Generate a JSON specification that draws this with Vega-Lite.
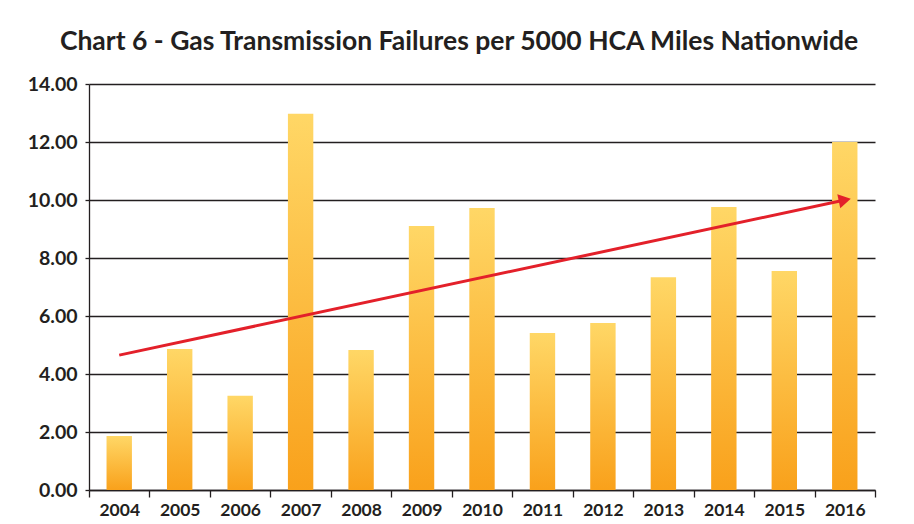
{
  "$schema": "https://vega.github.io/schema/vega-lite/v6.json",
  "autosize": "none",
  "width": 786,
  "height": 406,
  "padding": {"left": 89, "top": 84, "right": 39, "bottom": 34},
  "background": "white",
  "title": {
    "text": "Chart 6 - Gas Transmission Failures per 5000 HCA Miles Nationwide",
    "font": "Lato",
    "fontSize": 26.5,
    "fontWeight": "bold",
    "color": "#231f20",
    "anchor": "middle",
    "dx": -23,
    "offset": 19
  },
  "datasets": {
    "bars": [
      {"year": "2004", "value": 1.86},
      {"year": "2005", "value": 4.86},
      {"year": "2006", "value": 3.25},
      {"year": "2007", "value": 12.97},
      {"year": "2008", "value": 4.83},
      {"year": "2009", "value": 9.1},
      {"year": "2010", "value": 9.72},
      {"year": "2011", "value": 5.41},
      {"year": "2012", "value": 5.76},
      {"year": "2013", "value": 7.34},
      {"year": "2014", "value": 9.76},
      {"year": "2015", "value": 7.55},
      {"year": "2016", "value": 12.0}
    ],
    "trend": [
      {"year": "2004", "value": 4.65},
      {"year": "2016", "value": 10.0}
    ]
  },
  "layer": [
    {
      "data": {"name": "bars"},
      "mark": {
        "type": "bar",
        "width": {"band": 0.42},
        "color": {
          "gradient": "linear",
          "x1": 0, "y1": 0, "x2": 0, "y2": 1,
          "stops": [
            {"offset": 0, "color": "#FFD766"},
            {"offset": 1, "color": "#F9A11B"}
          ]
        }
      },
      "encoding": {
        "x": {
          "field": "year",
          "type": "nominal",
          "scale": {"paddingInner": 0, "paddingOuter": 0},
          "axis": {
            "title": null,
            "labelAngle": 0,
            "tickBand": "extent",
            "tickSize": 7,
            "tickColor": "#231f20",
            "tickWidth": 1.3,
            "domainColor": "#231f20",
            "domainWidth": 1.3,
            "labelFontSize": 17.5,
            "labelPadding": 4,
            "grid": false
          }
        },
        "y": {
          "field": "value",
          "type": "quantitative",
          "scale": {"domain": [0, 14], "nice": false},
          "axis": {
            "title": null,
            "values": [0, 2, 4, 6, 8, 10, 12, 14],
            "format": ".2f",
            "grid": true,
            "gridColor": "#231f20",
            "gridWidth": 1.3,
            "gridOpacity": 1,
            "domain": true,
            "domainColor": "#231f20",
            "domainWidth": 1.3,
            "tickColor": "#231f20",
            "tickSize": 4,
            "tickWidth": 1.3,
            "labelFontSize": 19.5,
            "labelPadding": 8
          }
        }
      }
    },
    {
      "data": {"name": "trend"},
      "mark": {"type": "line", "color": "#E3202A", "strokeWidth": 3},
      "encoding": {
        "x": {"field": "year", "type": "nominal"},
        "y": {"field": "value", "type": "quantitative"}
      }
    },
    {
      "data": {"name": "trend"},
      "transform": [{"filter": "datum.year == '2016'"}],
      "mark": {"type": "point", "shape": "triangle-right", "angle": -12, "size": 200, "filled": true, "color": "#E3202A", "opacity": 1},
      "encoding": {
        "x": {"field": "year", "type": "nominal"},
        "y": {"field": "value", "type": "quantitative"}
      }
    }
  ],
  "config": {
    "view": {"stroke": null},
    "axis": {
      "labelFont": "Lato",
      "labelFontWeight": "bold",
      "labelColor": "#231f20"
    }
  }
}
